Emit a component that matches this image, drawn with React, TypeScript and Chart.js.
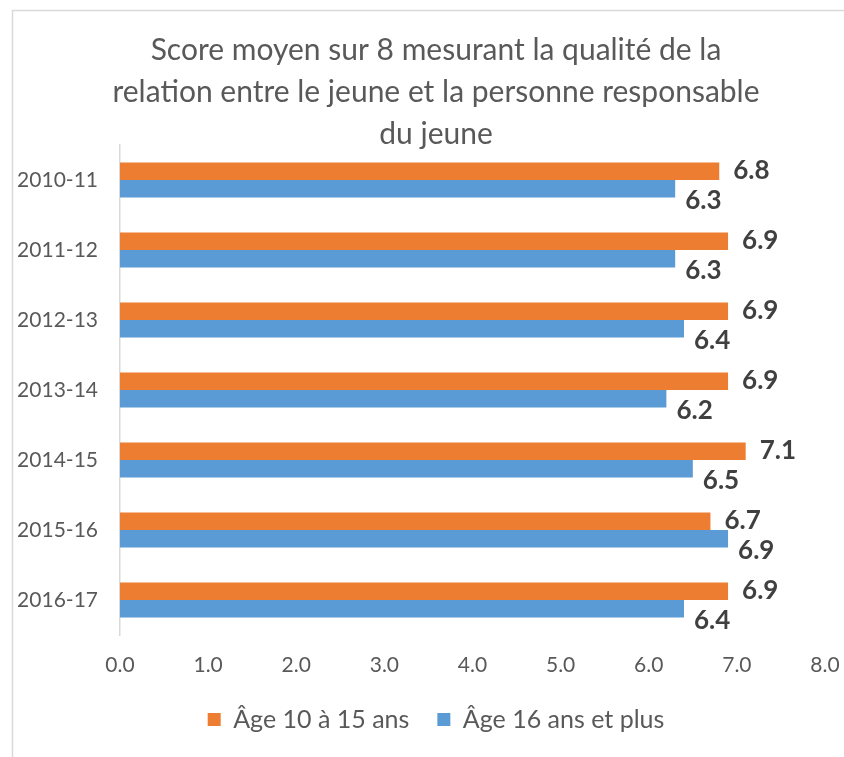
import React, { useEffect, useRef } from "react";
import { Chart, registerables } from "chart.js";

Chart.register(...registerables);

const categories = ["2010-11", "2011-12", "2012-13", "2013-14", "2014-15", "2015-16", "2016-17"];
const age10to15 = [6.8, 6.9, 6.9, 6.9, 7.1, 6.7, 6.9];
const age16plus = [6.3, 6.3, 6.4, 6.2, 6.5, 6.9, 6.4];
const seriesNames = ["Âge 10 à 15 ans", "Âge 16 ans et plus"];
const titleLines = [
  "Score moyen sur 8 mesurant la qualité de la",
  "relation entre le jeune et la personne responsable",
  "du jeune",
];

const FONT = "Lato, 'Liberation Sans', sans-serif";

const frame = {
  id: "frame",
  beforeDraw(chart: any) {
    const ctx = chart.ctx;
    ctx.save();
    ctx.fillStyle = "#ffffff";
    ctx.fillRect(0, 0, chart.width, chart.height);
    ctx.strokeStyle = "#d9d9d9";
    ctx.lineWidth = 1.5;
    ctx.beginPath();
    ctx.moveTo(12.5, chart.height);
    ctx.lineTo(12.5, 10.5);
    ctx.lineTo(chart.width, 10.5);
    ctx.stroke();
    ctx.restore();
  },
};

// widen the y-axis label clip region to the frame edge
const widenYLabels = {
  id: "widenYLabels",
  afterLayout(chart: any) {
    const y = chart.scales.y;
    if (y) {
      y.left = 12;
      y.width = y.right - y.left;
    }
  },
};

const valueLabels = {
  id: "valueLabels",
  afterDatasetsDraw(chart: any) {
    const ctx = chart.ctx;
    ctx.save();
    ctx.font = `bold 26px ${FONT}`;
    ctx.fillStyle = "#404040";
    ctx.textAlign = "left";
    ctx.textBaseline = "middle";
    chart.data.datasets.forEach((ds: any, di: number) => {
      const meta = chart.getDatasetMeta(di);
      meta.data.forEach((el: any, i: number) => {
        const v = ds.data[i] as number;
        const txt = v.toFixed(1);
        if (di === 0) {
          ctx.fillText(txt, el.x + 14, el.y - 1);
        } else {
          ctx.fillText(txt, el.x + 10, el.y + 12);
        }
      });
    });
    ctx.restore();
  },
};

export default function App() {
  const ref = useRef<HTMLCanvasElement>(null);
  useEffect(() => {
    document.body.style.margin = "0";
    const chart = new Chart(ref.current!, {
      type: "bar",
      data: {
        labels: categories,
        datasets: [
          {
            label: seriesNames[0],
            data: age10to15,
            backgroundColor: "#ED7D31",
            categoryPercentage: 0.5,
            barPercentage: 1.0,
          },
          {
            label: seriesNames[1],
            data: age16plus,
            backgroundColor: "#5B9BD5",
            categoryPercentage: 0.5,
            barPercentage: 1.0,
          },
        ],
      },
      options: {
        indexAxis: "y",
        animation: false,
        responsive: false,
        maintainAspectRatio: false,
        layout: { padding: { left: 47, right: 19, top: 29, bottom: 15 } },
        plugins: {
          title: {
            display: true,
            text: titleLines,
            color: "#595959",
            font: { family: FONT, size: 30, weight: "normal", lineHeight: "42px" },
            padding: { top: 0, bottom: -10 },
          },
          legend: {
            display: true,
            position: "bottom",
            labels: {
              color: "#595959",
              font: { family: FONT, size: 25 },
              boxWidth: 13,
              boxHeight: 13,
              padding: 28,
            },
          },
          tooltip: { enabled: false },
        },
        scales: {
          x: {
            min: 0,
            max: 8,
            grid: { display: false },
            border: { display: false },
            ticks: {
              stepSize: 1,
              color: "#595959",
              font: { family: FONT, size: 21 },
              padding: 10,
              callback: (v: any) => Number(v).toFixed(1),
            },
            afterFit(scale: any) {
              scale.height = 44;
              scale.paddingLeft = 0;
              scale.paddingRight = 0;
            },
          },
          y: {
            grid: { display: false },
            border: { display: true, color: "#d9d9d9", width: 1.5 },
            ticks: {
              color: "#595959",
              font: { family: FONT, size: 21 },
              padding: 14,
            },
            afterFit(scale: any) {
              scale.width = 73;
            },
          },
        },
      },
      plugins: [frame, widenYLabels, valueLabels],
    });
    return () => chart.destroy();
  }, []);
  return <canvas ref={ref} width={844} height={757} style={{ display: "block" }} />;
}
